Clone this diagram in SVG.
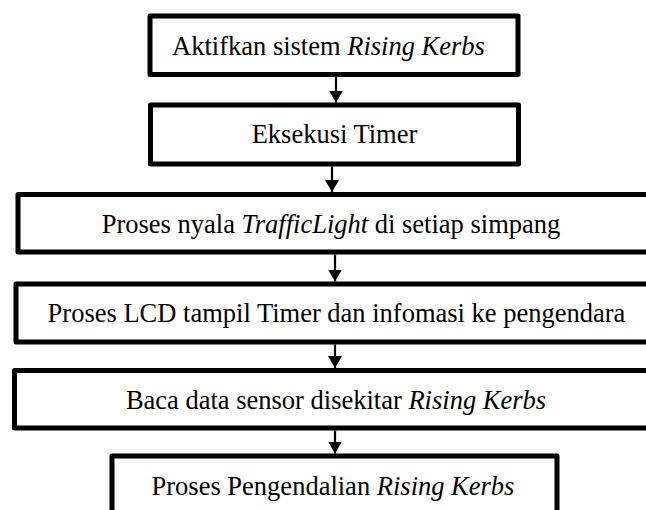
<svg xmlns="http://www.w3.org/2000/svg" width="646" height="510" viewBox="0 0 646 510">
<style>
.box{fill:#fff;stroke:#000;stroke-width:5;stroke-linejoin:round}
.lbl{font-family:'Liberation Serif','Times New Roman',serif;font-size:26.5px;fill:#000;text-anchor:middle}
.it{font-style:italic}
.conn line{stroke:#000;stroke-width:2.2}
</style>
<defs>
<marker id="ah" markerUnits="userSpaceOnUse" markerWidth="12" markerHeight="14" viewBox="0 0 12 14" refX="12" refY="7" orient="auto">
<path d="M0,0 L12,7 L0,14 z" fill="#000"/>
</marker>
</defs>
<rect width="646" height="510" fill="#fff"/>
<g id="n1">
<rect class="box" x="150" y="16" width="368" height="58.5"/>
<text class="lbl" x="328.5" y="55">Aktifkan sistem <tspan class="it">Rising Kerbs</tspan></text>
</g>
<g id="n2">
<rect class="box" x="150.5" y="105" width="368" height="59"/>
<text class="lbl" x="334.5" y="143">Eksekusi Timer</text>
</g>
<g id="n3">
<rect class="box" x="18" y="194.5" width="640" height="57.5"/>
<text class="lbl" x="331" y="232.5">Proses nyala <tspan class="it">TrafficLight</tspan> di setiap simpang</text>
</g>
<g id="n4">
<rect class="box" x="16" y="284" width="640" height="58"/>
<text class="lbl" x="336.5" y="322">Proses LCD tampil Timer dan infomasi ke pengendara</text>
</g>
<g id="n5">
<rect class="box" x="14.5" y="370.5" width="640" height="57.5"/>
<text class="lbl" x="336" y="408.5">Baca data sensor disekitar <tspan class="it">Rising Kerbs</tspan></text>
</g>
<g id="n6">
<rect class="box" x="112" y="456" width="445" height="62"/>
<text class="lbl" x="333" y="495">Proses Pengendalian <tspan class="it">Rising Kerbs</tspan></text>
</g>
<g id="connectors" class="conn">
<line x1="336" y1="77" x2="336" y2="102.5" marker-end="url(#ah)"/>
<line x1="332" y1="166.5" x2="332" y2="192" marker-end="url(#ah)"/>
<line x1="335" y1="254.5" x2="335" y2="281.5" marker-end="url(#ah)"/>
<line x1="335" y1="344.5" x2="335" y2="368" marker-end="url(#ah)"/>
<line x1="335" y1="430.5" x2="335" y2="453.5" marker-end="url(#ah)"/>
</g>
</svg>
